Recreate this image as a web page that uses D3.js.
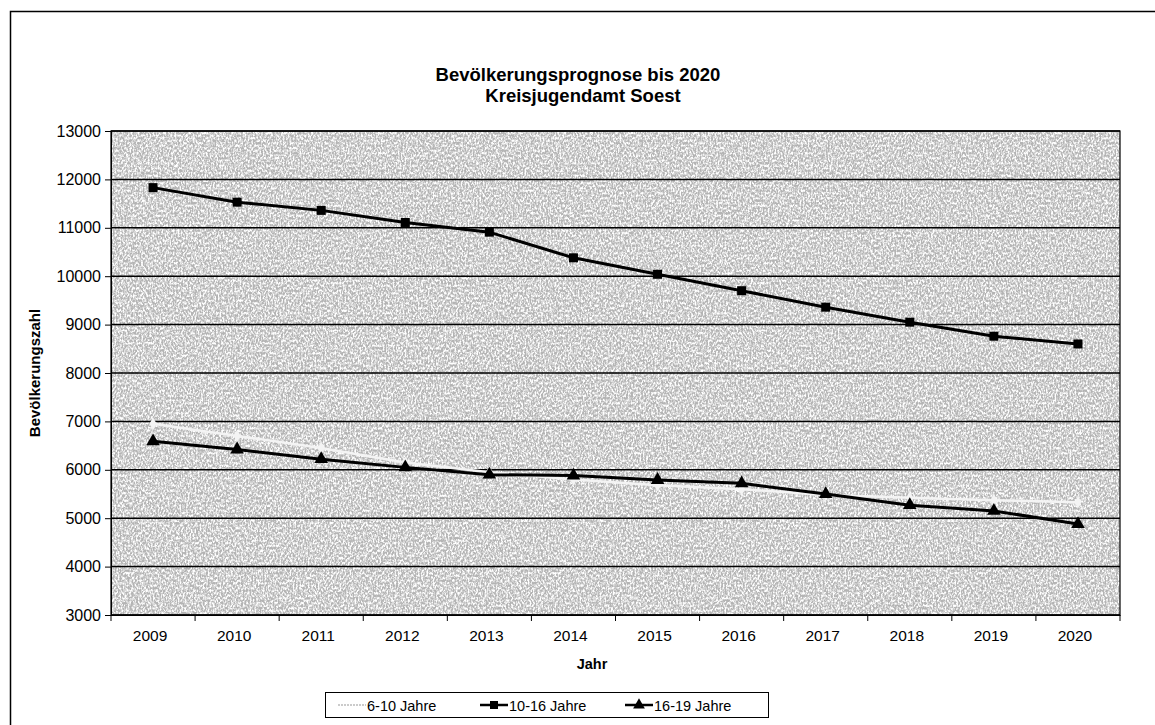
<!DOCTYPE html>
<html><head><meta charset="utf-8">
<script src="https://cdn.jsdelivr.net/npm/d3@7/dist/d3.min.js"></script>
<style>body{margin:0;background:#fff;} svg{display:block;font-family:"Liberation Sans",Arial,sans-serif;}</style>
</head><body>
<svg id="c" width="1155" height="725"></svg>
<script>
const years = ["2009","2010","2011","2012","2013","2014","2015","2016","2017","2018","2019","2020"];
const s6_10 = [6950,6700,6450,6150,5950,5800,5680,5600,5480,5420,5370,5330];
const s10_16 = [11830,11530,11360,11110,10910,10380,10040,9700,9360,9050,8760,8600];
const s16_19 = [6590,6420,6220,6050,5900,5880,5790,5720,5500,5270,5150,4880];
const yTicks = [3000,4000,5000,6000,7000,8000,9000,10000,11000,12000,13000];
const seriesNames = ["6-10 Jahre","10-16 Jahre","16-19 Jahre"];

const svg = d3.select("#c");
const L=111, R=1120, T=131, B=615;
const x = d3.scaleBand().domain(years).range([L,R]);
const y = d3.scaleLinear().domain([3000,13000]).range([B,T]);
const FF = "Liberation Sans, Arial, sans-serif";

// frame
svg.append("path").attr("d","M10.5,725 L10.5,11.5 L1155,11.5").attr("fill","none").attr("stroke","#000").attr("stroke-width",1.5);

// texture
const defs = svg.append("defs");
const f = defs.append("filter").attr("id","noise").attr("x",0).attr("y",0).attr("width","100%").attr("height","100%");
f.append("feTurbulence").attr("type","fractalNoise").attr("baseFrequency","0.6 0.4").attr("numOctaves",3).attr("seed",5).attr("result","t");
f.append("feColorMatrix").attr("in","t").attr("type","matrix")
 .attr("values","0 0 0 0 1  0 0 0 0 1  0 0 0 0 1  3 0 0 0 -1.1").attr("result","n");
f.append("feComposite").attr("in","n").attr("in2","SourceGraphic").attr("operator","in");
svg.append("rect").attr("x",L).attr("y",T).attr("width",R-L).attr("height",B-T).attr("fill","#b4b4b4");
svg.append("rect").attr("x",L).attr("y",T).attr("width",R-L).attr("height",B-T).attr("fill","#fff").attr("filter","url(#noise)");

// gridlines
svg.append("g").selectAll("line").data(yTicks).join("line")
  .attr("x1",L).attr("x2",R).attr("y1",d=>y(d)).attr("y2",d=>y(d))
  .attr("stroke","#000").attr("stroke-width",1.5);
svg.append("rect").attr("x",L).attr("y",T).attr("width",R-L).attr("height",B-T).attr("fill","none").attr("stroke","#000").attr("stroke-width",1.2);

// y axis
const ya = svg.append("g").attr("transform",`translate(${L},0)`)
  .call(d3.axisLeft(y).tickValues(yTicks).tickSize(6).tickPadding(4).tickFormat(d3.format("d")));
ya.select(".domain").attr("stroke","#000");
ya.selectAll("text").attr("font-size",16).attr("fill","#000").attr("font-family",FF);

// x axis
const xa = svg.append("g").attr("transform",`translate(0,${B})`)
  .call(d3.axisBottom(x).tickSize(0).tickPadding(15));
xa.select(".domain").attr("stroke","#000");
xa.selectAll("text").attr("font-size",15.5).attr("fill","#000").attr("font-family",FF).attr("dx",-3);
const bounds = years.map(d=>x(d)).concat([R]);
svg.append("g").selectAll("line").data(bounds).join("line")
  .attr("x1",d=>d).attr("x2",d=>d).attr("y1",B).attr("y2",B+6).attr("stroke","#000");

// lines
const line = d3.line().x((d,i)=>x(years[i])+x.bandwidth()/2).y(d=>y(d));
svg.append("path").datum(s6_10).attr("d",line).attr("fill","none").attr("stroke","#f4f4f4").attr("stroke-width",2.5);
svg.append("g").selectAll("path").data(s6_10).join("path")
  .attr("transform",(d,i)=>`translate(${x(years[i])+x.bandwidth()/2},${y(d)})`)
  .attr("d",d3.symbol(d3.symbolDiamond,45)).attr("fill","#f4f4f4");
svg.append("path").datum(s10_16).attr("d",line).attr("fill","none").attr("stroke","#000").attr("stroke-width",3);
svg.append("g").selectAll("rect").data(s10_16).join("rect")
  .attr("x",(d,i)=>x(years[i])+x.bandwidth()/2-4.5).attr("y",d=>y(d)-4.5).attr("width",9).attr("height",9).attr("fill","#000");
svg.append("path").datum(s16_19).attr("d",line).attr("fill","none").attr("stroke","#000").attr("stroke-width",3);
svg.append("g").selectAll("path").data(s16_19).join("path")
  .attr("transform",(d,i)=>`translate(${x(years[i])+x.bandwidth()/2},${y(d)})`)
  .attr("d",d3.symbol(d3.symbolTriangle,80)).attr("fill","#000");

// titles
svg.append("text").attr("x",578).attr("y",81).attr("text-anchor","middle").attr("font-weight","bold").attr("font-size",18.5).text("Bevölkerungsprognose bis 2020");
svg.append("text").attr("x",583).attr("y",102).attr("text-anchor","middle").attr("font-weight","bold").attr("font-size",18.5).text("Kreisjugendamt Soest");
svg.append("text").attr("transform","translate(40,373) rotate(-90)").attr("text-anchor","middle").attr("font-weight","bold").attr("font-size",15).text("Bevölkerungszahl");
svg.append("text").attr("x",592).attr("y",669).attr("text-anchor","middle").attr("font-weight","bold").attr("font-size",14.5).text("Jahr");

// legend
svg.append("rect").attr("x",325.5).attr("y",692.5).attr("width",443).attr("height",25).attr("fill","#fff").attr("stroke","#000");
const lx = [338,480,625];
const lg = svg.append("g").selectAll("g").data(seriesNames).join("g").attr("transform",(d,i)=>`translate(${lx[i]},705)`);
lg.append("line").attr("x1",0).attr("x2",28).attr("stroke",(d,i)=>i===0?"#bbb":"#000").attr("stroke-width",(d,i)=>i===0?1.5:2.5).attr("stroke-dasharray",(d,i)=>i===0?"2,1":null);
lg.each(function(d,i){
  const g=d3.select(this);
  if(i===1) g.append("rect").attr("x",10).attr("y",-4).attr("width",8).attr("height",8).attr("fill","#000");
  if(i===2) g.append("path").attr("transform","translate(14,0)").attr("d",d3.symbol(d3.symbolTriangle,60)).attr("fill","#000");
});
lg.append("text").attr("x",29).attr("y",5.5).attr("font-size",14.5).text(d=>d);
</script>
</body></html>
